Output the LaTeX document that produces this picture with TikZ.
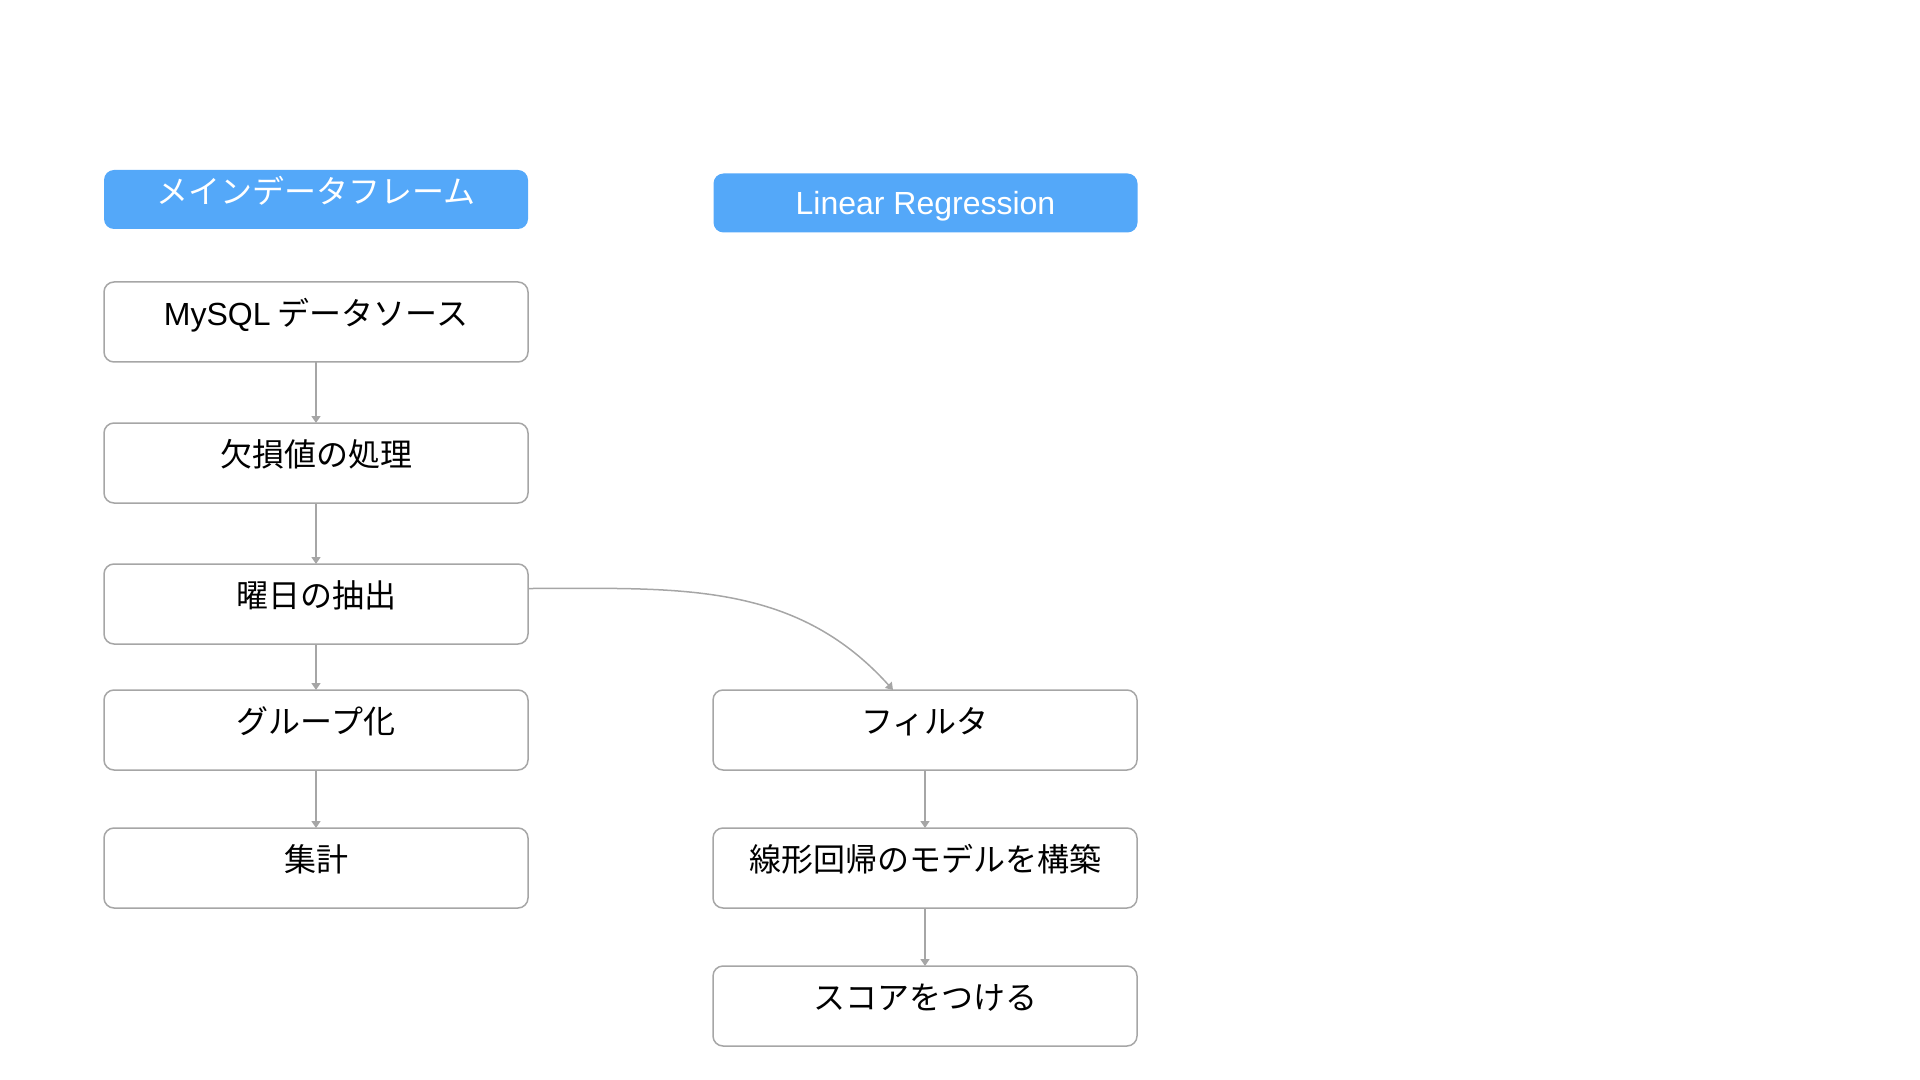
\documentclass[tikz,border=0pt]{standalone}
\usepackage{fontspec}
\setmainfont{Noto Sans CJK JP}
\newfontfamily\latinfont{Liberation Sans}
\usepackage{tikz}
\usetikzlibrary{positioning,arrows.meta}
\definecolor{headblue}{RGB}{84,168,249}
\definecolor{boxgray}{RGB}{166,166,166}

\begin{document}
\begin{tikzpicture}
[x=0.5pt, y=-0.5pt,
  font=\fontsize{16pt}{19pt}\selectfont,
  header/.style={fill=headblue, text=white, rounded corners=5pt,
    minimum width=212pt, minimum height=29.5pt, inner sep=0pt, outer sep=0pt,
    text height=12pt, text depth=8.4pt},
  stage/.style={draw=boxgray, line width=0.75pt, rounded corners=5pt,
    minimum width=212pt, minimum height=40pt, inner sep=0pt, outer sep=0pt,
    text height=12pt, text depth=8.4pt},
  flow/.style={draw=boxgray, line width=0.75pt,
    -{Triangle[width=4.5pt,length=3.5pt]}}]
  \useasboundingbox (0,0) rectangle (1920,1080);

  % left column
  \node[header] (main) at (316,199.5) {メインデータフレーム};
  \node[stage, below=26.5pt of main] (mysql) {{\latinfont MySQL} データソース};
  \node[stage, below=30.5pt of mysql] (kesson) {欠損値の処理};
  \node[stage, below=30.5pt of kesson] (youbi) {曜日の抽出};
  \node[stage, below=23pt of youbi] (group) {グループ化};
  \node[stage, below=29pt of group] (shukei) {集計};

  % right column
  \node[header, text depth=0pt] (linreg) at (925.5,203) {\latinfont Linear Regression};
  \node[stage, right=92.5pt of group] (filter) {フィルタ};
  \node[stage, below=29pt of filter] (model) {線形回帰のモデルを構築};
  \node[stage, below=29pt of model] (score) {スコアをつける};

  \draw[flow] (mysql) -- (kesson);
  \draw[flow] (kesson) -- (youbi);
  \draw[flow] (youbi) -- (group);
  \draw[flow] (group) -- (shukei);
  \draw[flow] ([yshift=7.75pt]youbi.east) to[out=0, in=132] ([xshift=-16pt]filter.north);
  \draw[flow] (filter) -- (model);
  \draw[flow] (model) -- (score);
\end{tikzpicture}
\end{document}
